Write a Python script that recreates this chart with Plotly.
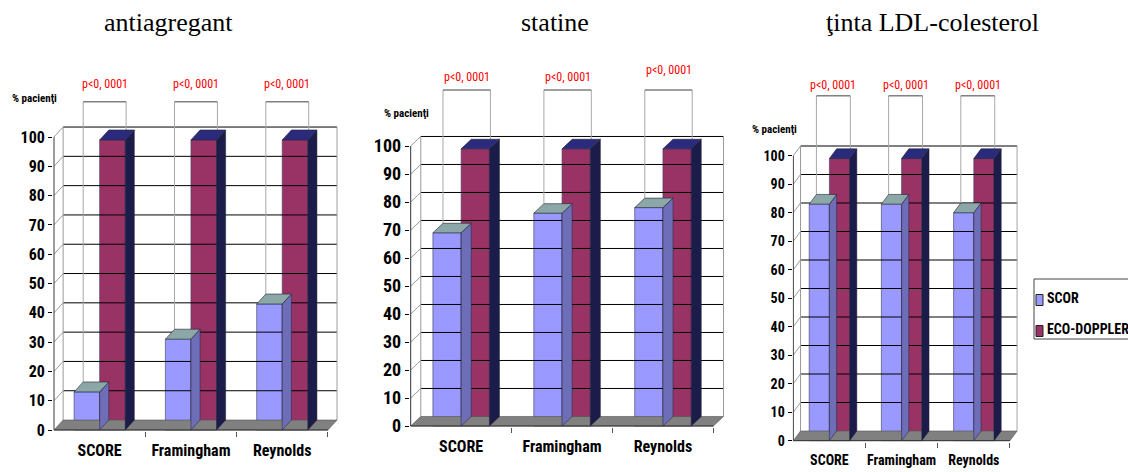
import plotly.graph_objects as go

# ---- data -------------------------------------------------------------
categories = ["SCORE", "Framingham", "Reynolds"]
series_names = ["SCOR", "ECO-DOPPLER"]
panel_titles = ["antiagregant", "statine", "ţinta LDL-colesterol"]

scor_antiagregant = [13, 31, 43]
eco_antiagregant = [99, 99, 99]
scor_statine = [69, 76, 78]
eco_statine = [99, 99, 99]
scor_ldl = [83, 83, 80]
eco_ldl = [99, 99, 99]

p_labels = ["p<0, 0001", "p<0, 0001", "p<0, 0001"]
y_ticks = list(range(0, 101, 10))
y_title = "% pacienţi"

# ---- style ------------------------------------------------------------
W_PX, H_PX = 1128, 472
BAR_W = 0.28          # bar width in category units
DEPTH_X = 0.10        # 3-D depth offset (category units)
DEPTH_Y = 3.4         # 3-D depth offset (value units)
Y_TOP = 130
X_LO, X_HI = -0.51, 2.5 + DEPTH_X + 0.01
Y_LO = -0.4

SCOR_FRONT, SCOR_TOP, SCOR_SIDE = "#9999ff", "#8ba7a7", "#6d6db8"
ECO_FRONT, ECO_TOP, ECO_SIDE = "#993366", "#2b2b7e", "#1c1c4a"
FLOOR = "#808080"
NARROW = ("Liberation Sans Narrow, Noto Sans Condensed, Roboto Condensed, "
          "Open Sans Condensed, Liberation Sans, Arial, sans-serif")
SERIF = "Liberation Serif, Times New Roman, serif"

# per-panel placement: front-axis x pixel, pixels per category,
# pixel of value 0, pixels per value unit, font sizes, text positions
panels = [
    dict(title=panel_titles[0], scor=scor_antiagregant, eco=eco_antiagregant,
         x0=54, cat_px=91.3, y0=430, unit_px=2.93, tick=16, cat=16,
         bracket=112, plab=[118, 118, 118], ylab=(34, 98), title_x=168),
    dict(title=panel_titles[1], scor=scor_statine, eco=eco_statine,
         x0=410.7, cat_px=100.9, y0=426, unit_px=2.80, tick=18, cat=16,
         bracket=120, plab=[124.8, 124.8, 127], ylab=(406, 113), title_x=555),
    dict(title=panel_titles[2], scor=scor_ldl, eco=eco_ldl,
         x0=793.3, cat_px=72.2, y0=440.7, unit_px=2.85, tick=14, cat=14,
         bracket=121, plab=[124.8, 124.8, 124.8], ylab=(774, 130), title_x=932),
]

fig = go.Figure()
idx = list(range(len(categories)))


def line_trace(xs, ys, color, width, ax, ay):
    return go.Scatter(x=xs, y=ys, mode="lines", line=dict(color=color, width=width),
                      xaxis=ax, yaxis=ay, hoverinfo="skip", showlegend=False)


def poly_trace(xs, ys, fill, edge, ax, ay, ew=0.6):
    return go.Scatter(x=xs, y=ys, mode="lines", fill="toself", fillcolor=fill,
                      line=dict(color=edge, width=ew), xaxis=ax, yaxis=ay,
                      hoverinfo="skip", showlegend=False)


annotations = []
layout_axes = {}

for k, p in enumerate(panels):
    s = "" if k == 0 else str(k + 1)
    ax, ay = "x" + s, "y" + s
    xa = -0.5
    xb = len(categories) - 0.5
    dx, dy = DEPTH_X, DEPTH_Y

    # back wall gridlines (black) and edges (gray)
    gx, gy = [], []
    for v in y_ticks[1:]:
        gx += [xa + dx, xb + dx, None]
        gy += [v + dy, v + dy, None]
    fig.add_trace(line_trace(gx, gy, "#000000", 1, ax, ay))

    ex, ey = [], []
    for v in y_ticks[1:]:
        ex += [xa, xa + dx, None]
        ey += [v, v + dy, None]
    ex += [xa + dx, xa + dx, None, xb + dx, xb + dx, None]
    ey += [dy, 100 + dy, None, dy, 100 + dy, None]
    fig.add_trace(line_trace(ex, ey, "#9a9a9a", 1, ax, ay))

    # floor
    fig.add_trace(poly_trace([xa, xb, xb + dx, xa + dx, xa],
                             [0, 0, dy, dy, 0], FLOOR, "#505050", ax, ay))
    # front axis and front floor edge
    fig.add_trace(line_trace([xa, xa, None, xa, xb], [0, 100, None, 0, 0],
                             "#333333", 1, ax, ay))

    # significance brackets
    bl, br = -0.18, BAR_W + 0.01
    vx, vy, hx, hy = [], [], [], []
    for i in idx:
        vx += [i + bl, i + bl, None, i + br, i + br, None]
        vy += [p["scor"][i] + dy, p["bracket"], None,
               p["eco"][i] + dy, p["bracket"], None]
        hx += [i + bl, i + br, None]
        hy += [p["bracket"], p["bracket"], None]
        annotations.append(dict(x=i + (bl + br) / 2, y=p["plab"][i], xref=ax, yref=ay,
                                text=p_labels[i], showarrow=False,
                                xanchor="center", yanchor="middle",
                                font=dict(family=NARROW, size=12, color="#ff0000")))
    fig.add_trace(line_trace(vx, vy, "#a8a8a8", 1, ax, ay))
    fig.add_trace(line_trace(hx, hy, "#404040", 1, ax, ay))

    # 3-D columns: front faces as bars, top and side faces as polygons
    for vals, off, front, top, side in (
        (p["scor"], -BAR_W, SCOR_FRONT, SCOR_TOP, SCOR_SIDE),
        (p["eco"], 0.0, ECO_FRONT, ECO_TOP, ECO_SIDE),
    ):
        sx, sy, tx, ty = [], [], [], []
        for i in idx:
            l, r, v = i + off, i + off + BAR_W, vals[i]
            sx += [r, r, r + dx, r + dx, r, None]
            sy += [0, v, v + dy, dy, 0, None]
            tx += [l, r, r + dx, l + dx, l, None]
            ty += [v, v, v + dy, v + dy, v, None]
        fig.add_trace(poly_trace(sx, sy, side, "#222233", ax, ay, 0.5))
        fig.add_trace(go.Bar(x=idx, y=vals, width=BAR_W, offset=off,
                             marker=dict(color=front, line=dict(color="#3a3a5a", width=0.6)),
                             xaxis=ax, yaxis=ay, showlegend=False,
                             name=series_names[0] if off < 0 else series_names[1]))
        fig.add_trace(poly_trace(tx, ty, top, "#222233", ax, ay, 0.6))

    # domains derived from the pixel placement
    left_px = p["x0"] + (X_LO - xa) * p["cat_px"]
    right_px = p["x0"] + (X_HI - xa) * p["cat_px"]
    bottom_px = p["y0"] - Y_LO * p["unit_px"]
    top_px = p["y0"] - Y_TOP * p["unit_px"]
    layout_axes["xaxis" + s] = dict(
        domain=[left_px / W_PX, right_px / W_PX], range=[X_LO, X_HI],
        anchor=ay, tickmode="array", tickvals=idx, ticktext=categories,
        ticks="", showgrid=False, zeroline=False, showline=False,
        automargin=False, tickangle=0, ticklabelstandoff=8,
        tickfont=dict(family=NARROW, size=p["cat"], color="#000000", weight="bold"),
        minor=dict(tickmode="array", tickvals=[i + 0.5 for i in idx], ticks="outside",
                   ticklen=5, tickcolor="#555555", showgrid=False),
    )
    layout_axes["yaxis" + s] = dict(
        domain=[1 - bottom_px / H_PX, 1 - top_px / H_PX], range=[Y_LO, Y_TOP],
        anchor=ax, tickmode="array", tickvals=y_ticks, ticks="outside", ticklen=4,
        tickcolor="#000000", showgrid=False, zeroline=False, showline=False,
        automargin=False,
        tickfont=dict(family=NARROW, size=p["tick"], color="#000000", weight="bold"),
    )

    annotations.append(dict(x=p["ylab"][0] / W_PX, y=1 - p["ylab"][1] / H_PX,
                            xref="paper", yref="paper", text=y_title, showarrow=False,
                            xanchor="center", yanchor="middle",
                            font=dict(family=NARROW, size=11, color="#000000", weight="bold")))
    annotations.append(dict(x=p["title_x"] / W_PX, y=1 - 23 / H_PX, xref="paper",
                            yref="paper", text=p["title"], showarrow=False,
                            xanchor="center", yanchor="middle",
                            font=dict(family=SERIF, size=26, color="#000000")))

# legend box drawn on the paper
shapes = [
    dict(type="rect", xref="paper", yref="paper", x0=1034 / W_PX, x1=1.01,
         y0=1 - 339 / H_PX, y1=1 - 279 / H_PX, line=dict(color="#444444", width=1),
         fillcolor="#ffffff", layer="below"),
]
for name, color, yc in ((series_names[0], SCOR_FRONT, 300), (series_names[1], ECO_FRONT, 331)):
    shapes.append(dict(type="rect", xref="paper", yref="paper",
                       x0=1036 / W_PX, x1=1043 / W_PX,
                       y0=1 - (yc + 5.5) / H_PX, y1=1 - (yc - 5.5) / H_PX,
                       line=dict(color="#222222", width=1), fillcolor=color))
    annotations.append(dict(x=1045 / W_PX, y=1 - (yc - 2) / H_PX, xref="paper", yref="paper",
                            xanchor="left", yanchor="middle", text=name, showarrow=False,
                            font=dict(family=NARROW, size=14, color="#000000", weight="bold")))

fig.update_layout(
    template="none",
    width=W_PX, height=H_PX, margin=dict(l=0, r=0, t=0, b=0, autoexpand=False),
    paper_bgcolor="#ffffff", plot_bgcolor="rgba(0,0,0,0)",
    barmode="overlay", showlegend=False,
    annotations=annotations, shapes=shapes, **layout_axes,
)

fig.write_html("out.html")
